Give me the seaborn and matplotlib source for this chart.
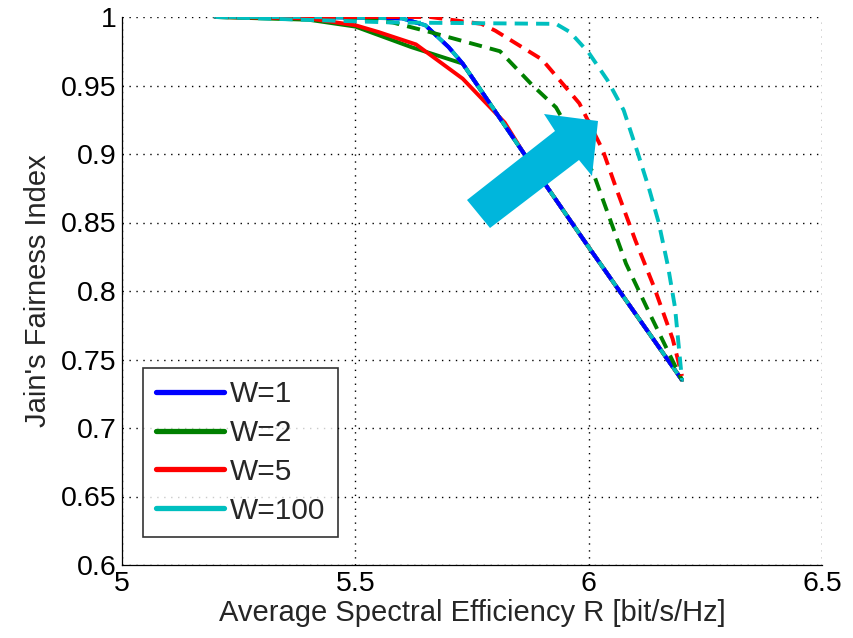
import numpy as np
import pandas as pd
import matplotlib
matplotlib.use("Agg")
import matplotlib.pyplot as plt
from matplotlib.patches import Polygon
import seaborn as sns

# ---- data ----
labels = ["W=1", "W=2", "W=5", "W=100"]

w1_x = [5.2, 5.4, 5.6, 5.65, 5.7, 5.73, 5.86, 6.0, 6.2]
w1_y = [1.0, 1.0, 0.999, 0.994, 0.978, 0.966, 0.901, 0.832, 0.735]

w2_x = [5.2, 5.4, 5.5, 5.62, 5.73, 5.86, 6.0, 6.2]
w2_y = [1.0, 0.998, 0.993, 0.978, 0.966, 0.901, 0.832, 0.735]

w5_x = [5.2, 5.4, 5.5, 5.55, 5.63, 5.73, 5.82, 5.86, 6.0, 6.2]
w5_y = [1.0, 0.999, 0.994, 0.989, 0.98, 0.955, 0.923, 0.901, 0.832, 0.735]

w100_x = [5.2, 5.4, 5.6, 5.65, 5.7, 5.73, 5.86, 6.0, 6.2]
w100_y = [1.0, 1.0, 0.999, 0.994, 0.978, 0.966, 0.901, 0.832, 0.735]

w1d_x = [5.2, 5.4, 5.6, 5.65, 5.7, 5.73, 5.86, 6.0, 6.2]
w1d_y = [1.0, 1.0, 0.999, 0.994, 0.978, 0.966, 0.901, 0.832, 0.735]

w2d_x = [5.2, 5.5, 5.58, 5.66, 5.81, 5.88, 5.93, 6.01, 6.08, 6.13, 6.2]
w2d_y = [1.0, 0.999, 0.996, 0.989, 0.975, 0.95, 0.934, 0.886, 0.82, 0.784, 0.735]

w5d_x = [5.2, 5.66, 5.77, 5.8, 5.9, 5.98, 6.03, 6.06, 6.1, 6.14, 6.18, 6.2]
w5d_y = [1.0, 1.0, 0.995, 0.99, 0.969, 0.937, 0.903, 0.874, 0.837, 0.803, 0.765, 0.738]

w100d_x = [5.2, 5.58, 5.93, 5.96, 6.0, 6.04, 6.075, 6.105, 6.13, 6.15, 6.17, 6.185, 6.2]
w100d_y = [1.0, 0.996, 0.995, 0.989, 0.974, 0.954, 0.932, 0.901, 0.874, 0.85, 0.818, 0.788, 0.735]

x_ticks = [5, 5.5, 6, 6.5]
x_tick_labels = ["5", "5.5", "6", "6.5"]
y_ticks = [0.6, 0.65, 0.7, 0.75, 0.8, 0.85, 0.9, 0.95, 1.0]
y_tick_labels = ["0.6", "0.65", "0.7", "0.75", "0.8", "0.85", "0.9", "0.95", "1"]

colors = ["#0000ff", "#008000", "#ff0000", "#00bfbf"]

# ---- style ----
sns.set_style("white")
plt.rcParams["font.family"] = ["Liberation Sans", "DejaVu Sans"]

W, H, DPI = 854, 638, 100
fig = plt.figure(figsize=(W / DPI, H / DPI), dpi=DPI)
ax = fig.add_axes([122 / W, 1 - 565 / H, 700 / W, 548 / H])

solid = [(w1_x, w1_y), (w2_x, w2_y), (w5_x, w5_y), (w100_x, w100_y)]
dashed = [(w1d_x, w1d_y), (w2d_x, w2d_y), (w5d_x, w5d_y), (w100d_x, w100d_y)]

lw = 2.8
dash = (0, (3.4, 2.1))

for (xs, ys), c, lab in zip(solid, colors, labels):
    df = pd.DataFrame({"R": xs, "J": ys})
    sns.lineplot(data=df, x="R", y="J", ax=ax, color=c, lw=lw, sort=False,
                 estimator=None, label=lab, zorder=3)
for (xs, ys), c in zip(dashed, colors):
    df = pd.DataFrame({"R": xs, "J": ys})
    sns.lineplot(data=df, x="R", y="J", ax=ax, color=c, lw=lw, sort=False,
                 estimator=None, linestyle=dash, zorder=4, legend=False)

ax.set_xlim(5, 6.5)
ax.set_ylim(0.6, 1.0)
ax.set_xticks(x_ticks)
ax.set_xticklabels(x_tick_labels)
ax.set_yticks(y_ticks)
ax.set_yticklabels(y_tick_labels)
ax.tick_params(direction="in", length=6, width=0.8, labelsize=20.5, colors="black",
               top=False, right=False, pad=4)
ax.grid(True, color="black", linestyle=(0, (1, 4)), linewidth=1.0)
for s in ["top", "right"]:
    ax.spines[s].set_visible(False)
for s in ["left", "bottom"]:
    ax.spines[s].set_color("black")
    ax.spines[s].set_linewidth(0.9)

ax.set_xlabel("Average Spectral Efficiency R [bit/s/Hz]", fontsize=21, labelpad=2)
ax.set_ylabel("Jain's Fairness Index", fontsize=21, labelpad=6)

leg = ax.legend(loc="lower left", bbox_to_anchor=(0.03, 0.051), fontsize=21.5,
                frameon=True, fancybox=False, handlelength=2.3, handletextpad=0.2,
                labelspacing=0.36, borderpad=0.42, borderaxespad=0)
leg.get_frame().set_edgecolor("black")
leg.get_frame().set_linewidth(1.2)
for h in leg.get_lines():
    h.set_linewidth(3.8)

# big cyan arrow annotation (figure pixel coordinates)
pts_px = [(467, 200), (555, 131), (544, 114), (598, 121), (592, 176), (579, 160), (490, 228)]
pts = [(px / W, 1 - py / H) for px, py in pts_px]
fig.patches.append(Polygon(pts, closed=True, transform=fig.transFigure,
                           facecolor="#00b6dc", edgecolor="none", zorder=10))

fig.savefig("out.png", dpi=DPI)
